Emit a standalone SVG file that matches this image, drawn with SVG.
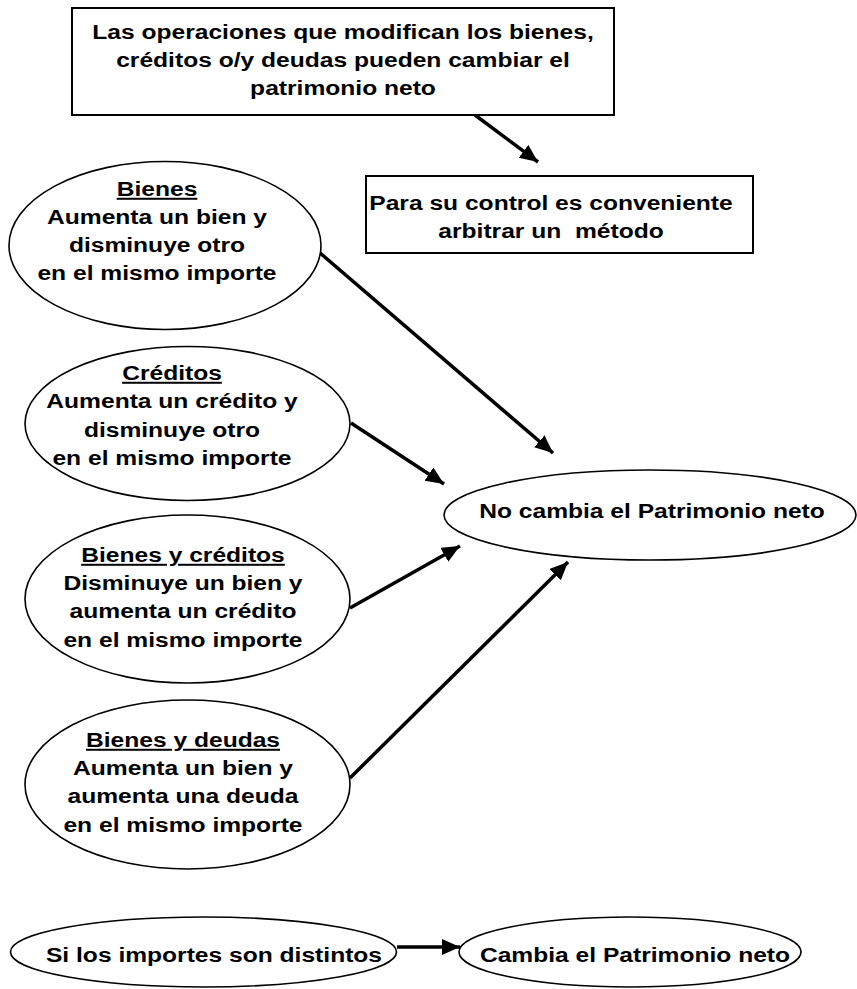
<svg xmlns="http://www.w3.org/2000/svg" width="857" height="989" viewBox="0 0 857 989">
<defs>
<style>
.box{fill:#fff;stroke:#000;stroke-width:2}
.ell{fill:#fff;stroke:#000;stroke-width:1.6}
.t{font-family:"Liberation Sans",Arial,sans-serif;font-weight:bold;font-size:20px;fill:#000;text-anchor:middle;white-space:pre}
.u{text-decoration:underline}
.c{stroke:#000;stroke-width:3.5;fill:none;marker-end:url(#ah)}
</style>
<marker id="ah" markerUnits="userSpaceOnUse" markerWidth="20" markerHeight="18" refX="18" refY="8" orient="auto">
<path d="M0,0 L18,8 L0,16 z" fill="#000"/>
</marker>
</defs>
<rect width="857" height="989" fill="#fff"/>
<g id="connectors">
<line class="c" x1="475" y1="115" x2="538" y2="162"/>
<line class="c" x1="320" y1="253" x2="553" y2="453"/>
<line class="c" x1="351" y1="423" x2="444" y2="484"/>
<line class="c" x1="350" y1="608" x2="460" y2="546"/>
<line class="c" x1="350" y1="778" x2="568" y2="562"/>
<line class="c" x1="397" y1="947" x2="460" y2="947"/>
</g>
<g id="top-box">
<rect class="box" x="72" y="8" width="542" height="107"/>
<text class="t" transform="matrix(1.23 0 0 1 343 0)" x="0" y="39">Las operaciones que modifican los bienes,</text>
<text class="t" transform="matrix(1.23 0 0 1 343 0)" x="0" y="67">créditos o/y deudas pueden cambiar el</text>
<text class="t" transform="matrix(1.23 0 0 1 343 0)" x="0" y="95">patrimonio neto</text>
</g>
<g id="control-box">
<rect class="box" x="366" y="176" width="387" height="77"/>
<text class="t" transform="matrix(1.23 0 0 1 551 0)" x="0" y="210">Para su control es conveniente</text>
<text class="t" transform="matrix(1.23 0 0 1 551 0)" x="0" y="238">arbitrar un  método</text>
</g>
<g id="bienes">
<ellipse class="ell" cx="165" cy="245.5" rx="156" ry="84"/>
<text class="t u" transform="matrix(1.23 0 0 1 157 0)" x="0" y="196">Bienes</text>
<text class="t" transform="matrix(1.23 0 0 1 157 0)" x="0" y="224">Aumenta un bien y</text>
<text class="t" transform="matrix(1.23 0 0 1 157 0)" x="0" y="252">disminuye otro</text>
<text class="t" transform="matrix(1.23 0 0 1 157 0)" x="0" y="280">en el mismo importe</text>
</g>
<g id="creditos">
<ellipse class="ell" cx="187.5" cy="423.5" rx="162.5" ry="77"/>
<text class="t u" transform="matrix(1.23 0 0 1 172 0)" x="0" y="380">Créditos</text>
<text class="t" transform="matrix(1.23 0 0 1 172 0)" x="0" y="408">Aumenta un crédito y</text>
<text class="t" transform="matrix(1.23 0 0 1 172 0)" x="0" y="437">disminuye otro</text>
<text class="t" transform="matrix(1.23 0 0 1 172 0)" x="0" y="465">en el mismo importe</text>
</g>
<g id="bienes-creditos">
<ellipse class="ell" cx="187.5" cy="599" rx="162.5" ry="84"/>
<text class="t u" transform="matrix(1.23 0 0 1 183 0)" x="0" y="562">Bienes y créditos</text>
<text class="t" transform="matrix(1.23 0 0 1 183 0)" x="0" y="590">Disminuye un bien y</text>
<text class="t" transform="matrix(1.23 0 0 1 183 0)" x="0" y="618">aumenta un crédito</text>
<text class="t" transform="matrix(1.23 0 0 1 183 0)" x="0" y="647">en el mismo importe</text>
</g>
<g id="bienes-deudas">
<ellipse class="ell" cx="187.5" cy="784.5" rx="162.5" ry="84.5"/>
<text class="t u" transform="matrix(1.23 0 0 1 183 0)" x="0" y="747">Bienes y deudas</text>
<text class="t" transform="matrix(1.23 0 0 1 183 0)" x="0" y="775">Aumenta un bien y</text>
<text class="t" transform="matrix(1.23 0 0 1 183 0)" x="0" y="803">aumenta una deuda</text>
<text class="t" transform="matrix(1.23 0 0 1 183 0)" x="0" y="832">en el mismo importe</text>
</g>
<g id="no-cambia">
<ellipse class="ell" cx="650" cy="515" rx="206" ry="45"/>
<text class="t" transform="matrix(1.23 0 0 1 652 0)" x="0" y="518">No cambia el Patrimonio neto</text>
</g>
<g id="si-distintos">
<ellipse class="ell" cx="203.5" cy="952" rx="193" ry="35"/>
<text class="t" transform="matrix(1.23 0 0 1 214 0)" x="0" y="962">Si los importes son distintos</text>
</g>
<g id="cambia">
<ellipse class="ell" cx="630" cy="952" rx="171" ry="35"/>
<text class="t" transform="matrix(1.23 0 0 1 635 0)" x="0" y="962">Cambia el Patrimonio neto</text>
</g>
</svg>
